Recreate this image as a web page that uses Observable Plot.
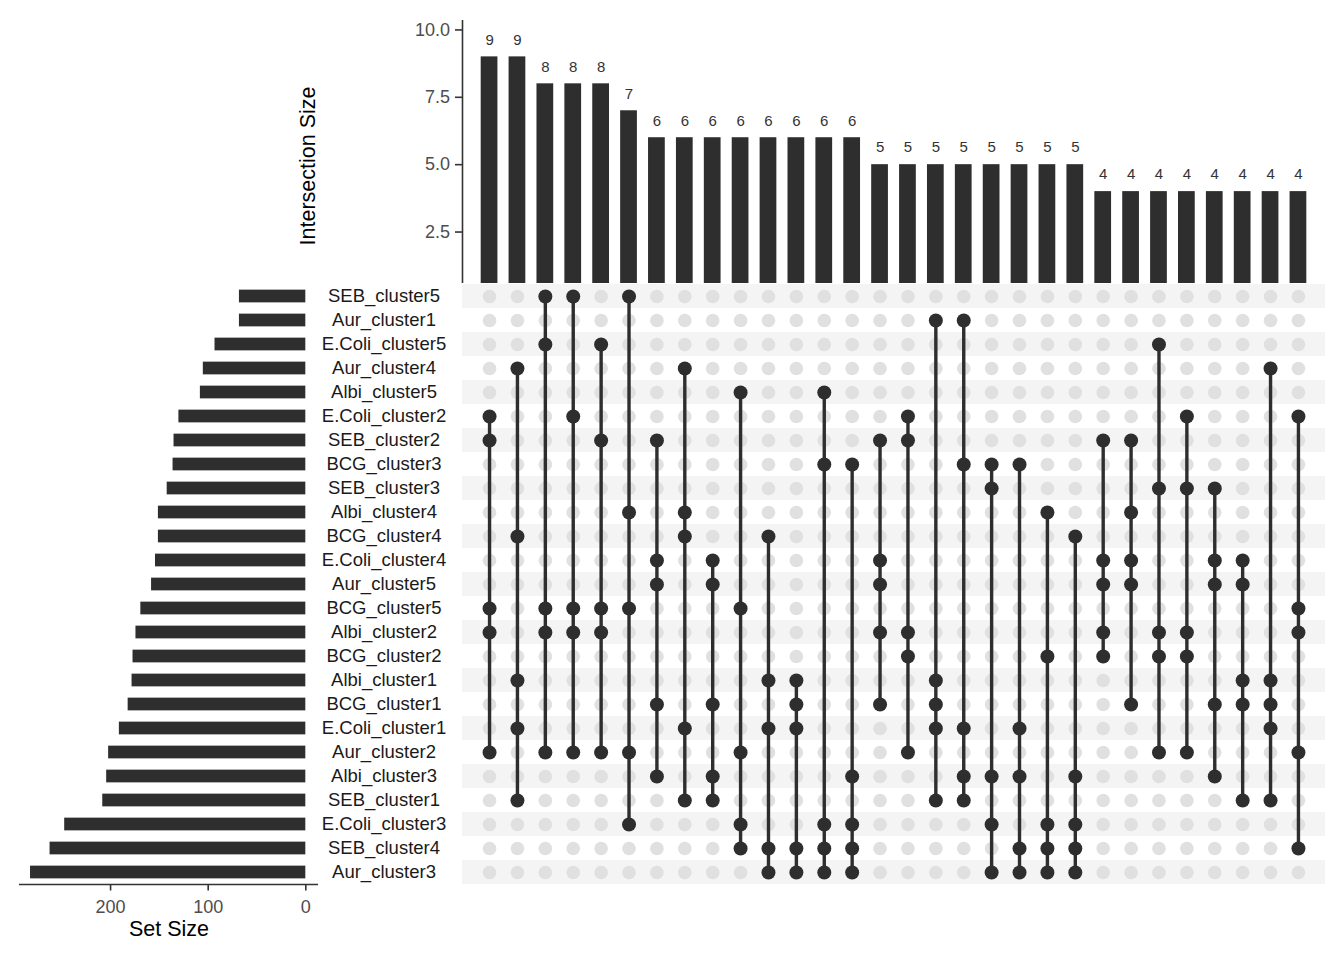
<!DOCTYPE html>
<html>
<head>
<meta charset="utf-8">
<script src="https://cdn.jsdelivr.net/npm/d3@7"></script>
<script src="https://cdn.jsdelivr.net/npm/@observablehq/plot@0.6"></script>
<style>
  html, body { margin: 0; padding: 0; background: #fff; }
  #wrap { position: relative; width: 1344px; height: 960px; overflow: hidden; font-family: "Liberation Sans", Arial, sans-serif; }
  .part { position: absolute; }
  .title { position: absolute; white-space: nowrap; font-size: 21.5px; color: #000; transform: translate(-50%, -50%); }
</style>
</head>
<body>
<div id="wrap">
  <div class="part" id="top" style="left:290px; top:0px;"></div>
  <div class="part" id="matrix" style="left:318px; top:284px;"></div>
  <div class="part" id="left" style="left:0px; top:284px;"></div>
  <div class="title" style="left:308px; top:166px; transform: translate(-50%, -50%) rotate(-90deg);">Intersection Size</div>
  <div class="title" style="left:169px; top:929px;">Set Size</div>
</div>
<script>
// ---- data ----
const sets = [
  "SEB_cluster5","Aur_cluster1","E.Coli_cluster5","Aur_cluster4","Albi_cluster5",
  "E.Coli_cluster2","SEB_cluster2","BCG_cluster3","SEB_cluster3","Albi_cluster4",
  "BCG_cluster4","E.Coli_cluster4","Aur_cluster5","BCG_cluster5","Albi_cluster2",
  "BCG_cluster2","Albi_cluster1","BCG_cluster1","E.Coli_cluster1","Aur_cluster2",
  "Albi_cluster3","SEB_cluster1","E.Coli_cluster3","SEB_cluster4","Aur_cluster3"
];
const setSizes = [68,68,93,105,108,130,135,136,142,151,151,154,158,169,174,177,178,182,191,202,204,208,247,262,282];
const intersectionSizes = [9,9,8,8,8,7,6,6,6,6,6,6,6,6,5,5,5,5,5,5,5,5,4,4,4,4,4,4,4,4];
const intersections = [
  ["E.Coli_cluster2","SEB_cluster2","BCG_cluster5","Albi_cluster2","Aur_cluster2"],
  ["Aur_cluster4","BCG_cluster4","Albi_cluster1","E.Coli_cluster1","SEB_cluster1"],
  ["SEB_cluster5","E.Coli_cluster5","BCG_cluster5","Albi_cluster2","Aur_cluster2"],
  ["SEB_cluster5","E.Coli_cluster2","BCG_cluster5","Albi_cluster2","Aur_cluster2"],
  ["E.Coli_cluster5","SEB_cluster2","BCG_cluster5","Albi_cluster2","Aur_cluster2"],
  ["SEB_cluster5","Albi_cluster4","BCG_cluster5","Aur_cluster2","E.Coli_cluster3"],
  ["SEB_cluster2","E.Coli_cluster4","Aur_cluster5","BCG_cluster1","Albi_cluster3"],
  ["Aur_cluster4","Albi_cluster4","BCG_cluster4","E.Coli_cluster1","SEB_cluster1"],
  ["E.Coli_cluster4","Aur_cluster5","BCG_cluster1","Albi_cluster3","SEB_cluster1"],
  ["Albi_cluster5","BCG_cluster5","Aur_cluster2","E.Coli_cluster3","SEB_cluster4"],
  ["BCG_cluster4","Albi_cluster1","E.Coli_cluster1","SEB_cluster4","Aur_cluster3"],
  ["Albi_cluster1","BCG_cluster1","E.Coli_cluster1","SEB_cluster4","Aur_cluster3"],
  ["Albi_cluster5","BCG_cluster3","E.Coli_cluster3","SEB_cluster4","Aur_cluster3"],
  ["BCG_cluster3","Albi_cluster3","E.Coli_cluster3","SEB_cluster4","Aur_cluster3"],
  ["SEB_cluster2","E.Coli_cluster4","Aur_cluster5","Albi_cluster2","BCG_cluster1"],
  ["E.Coli_cluster2","SEB_cluster2","Albi_cluster2","BCG_cluster2","Aur_cluster2"],
  ["Aur_cluster1","Albi_cluster1","BCG_cluster1","E.Coli_cluster1","SEB_cluster1"],
  ["Aur_cluster1","BCG_cluster3","E.Coli_cluster1","Albi_cluster3","SEB_cluster1"],
  ["BCG_cluster3","SEB_cluster3","Albi_cluster3","E.Coli_cluster3","Aur_cluster3"],
  ["BCG_cluster3","E.Coli_cluster1","Albi_cluster3","SEB_cluster4","Aur_cluster3"],
  ["Albi_cluster4","BCG_cluster2","E.Coli_cluster3","SEB_cluster4","Aur_cluster3"],
  ["BCG_cluster4","Albi_cluster3","E.Coli_cluster3","SEB_cluster4","Aur_cluster3"],
  ["SEB_cluster2","E.Coli_cluster4","Aur_cluster5","Albi_cluster2","BCG_cluster2"],
  ["SEB_cluster2","Albi_cluster4","E.Coli_cluster4","Aur_cluster5","BCG_cluster1"],
  ["E.Coli_cluster5","SEB_cluster3","Albi_cluster2","BCG_cluster2","Aur_cluster2"],
  ["E.Coli_cluster2","SEB_cluster3","Albi_cluster2","BCG_cluster2","Aur_cluster2"],
  ["SEB_cluster3","E.Coli_cluster4","Aur_cluster5","BCG_cluster1","Albi_cluster3"],
  ["E.Coli_cluster4","Aur_cluster5","Albi_cluster1","BCG_cluster1","SEB_cluster1"],
  ["Aur_cluster4","Albi_cluster1","BCG_cluster1","E.Coli_cluster1","SEB_cluster1"],
  ["E.Coli_cluster2","BCG_cluster5","Albi_cluster2","Aur_cluster2","SEB_cluster4"]
];
const countTicks = [2.5, 5, 7.5, 10];
const setSizeTicks = [0, 100, 200];

// ---- derived tables ----
const dark = "#2e2e2e";
const font = "'Liberation Sans', Arial, sans-serif";
const xDomain = [-0.97, 29.97];
const rowDomain = [-0.5, 24.5];
const cols = intersectionSizes.map((v, i) => ({i, v}));
const rows = sets.map((s, r) => ({s, r, size: setSizes[r]}));
const cells = [];
intersections.forEach((members, i) => {
  sets.forEach((s, r) => cells.push({col: i, row: r, member: members.includes(s)}));
});
const links = intersections.map((members, i) => {
  const idx = members.map(s => sets.indexOf(s));
  return {col: i, y1: d3.min(idx), y2: d3.max(idx)};
});
const stripeRows = rows.filter(d => d.r % 2 === 0);
const baseStyle = {fontFamily: font, fontSize: "18px", background: "transparent", overflow: "visible", color: "#333"};

// ---- top: intersection size bars ----
const topChart = Plot.plot({
  width: 1054, height: 284,
  marginLeft: 172, marginRight: 19, marginTop: 20, marginBottom: 1,
  style: baseStyle,
  x: {domain: xDomain, axis: null},
  y: {domain: [0.59, 10.35], clamp: true, axis: null},
  marks: [
    Plot.rect(cols, {x1: d => d.i - 0.3, x2: d => d.i + 0.3, y1: 0, y2: "v", fill: dark}),
    Plot.text(cols, {x: "i", y: "v", text: d => String(d.v), dy: -17, fontSize: 15, fill: "#333"}),
    Plot.ruleX([xDomain[0]], {stroke: "#333", strokeWidth: 1.6}),
    Plot.axisY({ticks: countTicks, tickFormat: d3.format(".1f"), tickSize: 7, tickPadding: 5.5,
      fontSize: 18, fill: "#4d4d4d", stroke: "#333", strokeWidth: 1.6, label: null})
  ]
});
document.getElementById("top").appendChild(topChart);

// ---- matrix ----
const matrixChart = Plot.plot({
  width: 1026, height: 600,
  marginLeft: 144, marginRight: 19, marginTop: 0, marginBottom: 0,
  style: baseStyle,
  x: {domain: xDomain, axis: null},
  y: {domain: rowDomain, reverse: true, axis: null},
  marks: [
    Plot.rect(stripeRows, {x1: xDomain[0], x2: xDomain[1], y1: d => d.r - 0.5, y2: d => d.r + 0.5, fill: "#f4f4f4"}),
    Plot.dot(cells.filter(d => !d.member), {x: "col", y: "row", r: 6.8, fill: "#e0e0e0", stroke: "none"}),
    Plot.ruleX(links, {x: "col", y1: "y1", y2: "y2", stroke: dark, strokeWidth: 3.4}),
    Plot.dot(cells.filter(d => d.member), {x: "col", y: "row", r: 7, fill: dark, stroke: "none"}),
    Plot.text(rows, {y: "r", text: "s", frameAnchor: "left", dx: -78.5, textAnchor: "middle", fontSize: 18.5, fill: "#1a1a1a"})
  ]
});
document.getElementById("matrix").appendChild(matrixChart);

// ---- left: set size bars ----
const leftChart = Plot.plot({
  width: 318, height: 676,
  marginLeft: 19, marginRight: 0, marginTop: 0, marginBottom: 76,
  style: baseStyle,
  x: {domain: [293.3, -13], axis: null},
  y: {domain: rowDomain, reverse: true, axis: null},
  marks: [
    Plot.rect(rows, {x1: 0, x2: "size", y1: d => d.r - 0.265, y2: d => d.r + 0.265, fill: dark}),
    Plot.ruleY([rowDomain[1]], {stroke: "#333", strokeWidth: 1.6}),
    Plot.axisX({ticks: setSizeTicks, tickSize: 6.5, tickPadding: 9, fontSize: 18,
      fill: "#4d4d4d", stroke: "#333", strokeWidth: 1.6, label: null})
  ]
});
document.getElementById("left").appendChild(leftChart);
</script>
</body>
</html>
